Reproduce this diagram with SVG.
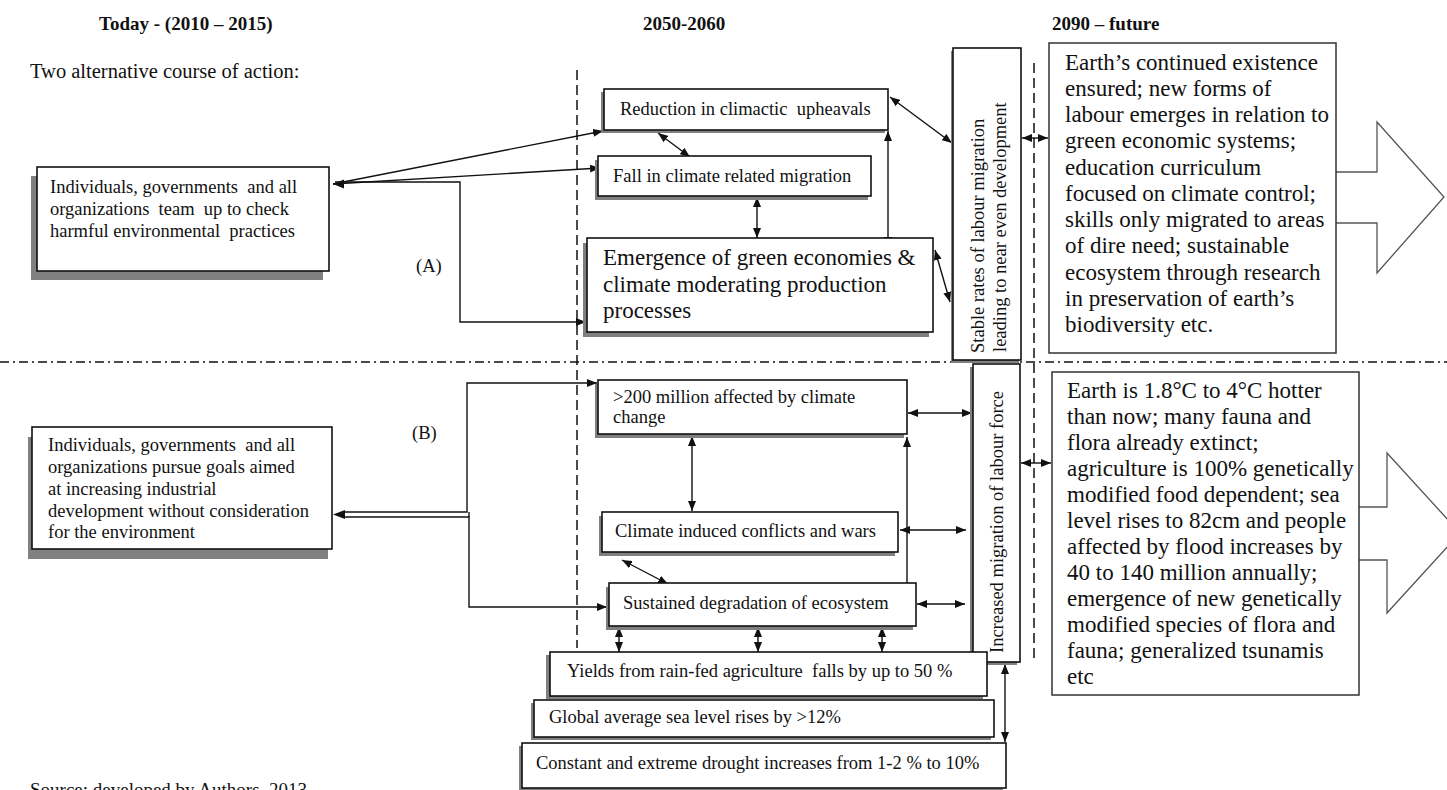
<svg xmlns="http://www.w3.org/2000/svg" width="1447" height="790" viewBox="0 0 1447 790">
<defs>
<style>
text{font-family:"Liberation Serif","Times New Roman",serif;fill:#111}
.hd{font-size:19px;font-weight:bold}
.t{font-size:18.5px}
.big{font-size:23px}
.box{fill:#fff;stroke:#111;stroke-width:1.6}
.ebox{fill:#fff;stroke:#333;stroke-width:1.5}
.sh{fill:#808080}
.c{fill:none;stroke:#111;stroke-width:1.4}
.dd{marker-start:url(#ah);marker-end:url(#ah)}
.e{marker-end:url(#ah)}
.dash{fill:none;stroke:#111;stroke-width:1.5;stroke-dasharray:10,5}
.dashdot{fill:none;stroke:#111;stroke-width:1.5;stroke-dasharray:9,4,2,4}
.bigarrow{fill:#fff;stroke:#555;stroke-width:1.3}
</style>
<marker id="ah" markerWidth="10" markerHeight="8" refX="10" refY="4" orient="auto-start-reverse" markerUnits="userSpaceOnUse">
<path d="M0,0 L10,4 L0,8 z" fill="#111"/>
</marker>
</defs>
<rect width="1447" height="790" fill="#fff"/>

<g id="guides">
<path class="dash" d="M577,70 V648"/>
<path class="dash" d="M1034,63 V663"/>
<path class="dashdot" d="M0,362 H1447"/>
</g>

<g id="headers">
<text class="hd" x="99" y="30">Today - (2010 – 2015)</text>
<text class="hd" x="643" y="30">2050-2060</text>
<text class="hd" x="1052" y="30">2090 – future</text>
<text x="30" y="78" style="font-size:20.5px">Two alternative course of action:</text>
<text class="t" x="416" y="272">(A)</text>
<text class="t" x="412" y="439">(B)</text>
<text x="30" y="796" style="font-size:19px">Source: developed by Authors, 2013</text>
</g>

<g id="connectors">
<path class="c e" d="M333,184 L603,131"/>
<path class="c e" d="M333,184 L600,168"/>
<path class="c e" d="M335,182 H460 V322 H586"/>
<polygon points="333,184 344,179.5 344,188.5" fill="#111"/>
<path class="c dd" d="M658,133 L690,157"/>
<path class="c dd" d="M757,197 V238"/>
<path class="c dd" d="M888,131 V247"/>
<path class="c dd" d="M890,97 L952,143"/>
<path class="c dd" d="M935,250 L950,302"/>
<path class="c dd" d="M1022,138 H1048"/>
<path class="c e" d="M342,512 H467 V383 H597"/>
<path class="c e" d="M342,517 H469 V607 H607"/>
<path class="c" d="M469,512 V517"/>
<polygon points="333,514.5 345,510 345,519" fill="#111"/>
<path class="c dd" d="M908,413 H972"/>
<path class="c dd" d="M692,436 V511"/>
<path class="c dd" d="M907,437 V593"/>
<path class="c dd" d="M900,530 H966"/>
<path class="c dd" d="M622,560 L668,584"/>
<path class="c dd" d="M917,604 H965"/>
<path class="c dd" d="M619,627 V652"/>
<path class="c dd" d="M758,627 V652"/>
<path class="c dd" d="M882,627 V652"/>
<path class="c dd" d="M1005,664 V742"/>
<path class="c dd" d="M1021,463 H1051"/>
</g>

<g id="nodeA">
<rect class="sh" x="31" y="176" width="292" height="104"/>
<rect class="box" x="37" y="167" width="292" height="104"/>
<text class="t" x="50" y="193" xml:space="preserve">Individuals, governments  and all</text>
<text class="t" x="50" y="215" xml:space="preserve">organizations  team  up to check</text>
<text class="t" x="50" y="237" xml:space="preserve">harmful environmental  practices</text>
</g>

<g id="nodeB">
<rect class="sh" x="28" y="437" width="300" height="122"/>
<rect class="box" x="32" y="427" width="300" height="122"/>
<text class="t" x="48" y="451" xml:space="preserve">Individuals, governments  and all</text>
<text class="t" x="48" y="473">organizations pursue goals aimed</text>
<text class="t" x="48" y="494.5">at increasing industrial</text>
<text class="t" x="48" y="516.5">development without consideration</text>
<text class="t" x="48" y="537.5">for the environment</text>
</g>

<g id="reduction">
<rect class="sh" x="601" y="92" width="284" height="41"/>
<rect class="box" x="604" y="89" width="284" height="41"/>
<text class="t" x="620" y="115" xml:space="preserve">Reduction in climactic  upheavals</text>
</g>

<g id="fall">
<rect class="sh" x="595" y="160" width="273" height="40"/>
<rect class="box" x="598" y="156" width="273" height="40"/>
<text class="t" x="613" y="182">Fall in climate related migration</text>
</g>

<g id="emergence">
<rect class="sh" x="583" y="243" width="346" height="94"/>
<rect class="box" x="587" y="238" width="346" height="94"/>
<text class="big" x="603" y="265">Emergence of green economies &amp;</text>
<text class="big" x="603" y="292">climate moderating production</text>
<text class="big" x="603" y="318">processes</text>
</g>

<g id="stable">
<rect class="sh" x="951" y="51" width="68" height="312"/>
<rect class="box" x="953" y="48" width="68" height="312"/>
<text class="t" transform="translate(984,353) rotate(-90)">Stable rates of labour migration</text>
<text class="t" transform="translate(1006,352) rotate(-90)">leading to near even development</text>
</g>

<g id="earth1">
<path class="bigarrow" d="M1336,172 H1377 V122 L1444,197 L1377,273 V223 H1336"/>
<rect class="ebox" x="1049" y="43" width="287" height="310"/>
<text class="big" x="1065" y="70">Earth’s continued existence</text>
<text class="big" x="1065" y="96">ensured; new forms of</text>
<text class="big" x="1065" y="122">labour emerges in relation to</text>
<text class="big" x="1065" y="148">green economic systems;</text>
<text class="big" x="1065" y="175">education curriculum</text>
<text class="big" x="1065" y="201">focused on climate control;</text>
<text class="big" x="1065" y="227">skills only migrated to areas</text>
<text class="big" x="1065" y="253">of dire need; sustainable</text>
<text class="big" x="1065" y="280">ecosystem through research</text>
<text class="big" x="1065" y="306">in preservation of earth’s</text>
<text class="big" x="1065" y="332">biodiversity etc.</text>
</g>

<g id="m200">
<rect class="sh" x="595" y="384" width="309" height="54"/>
<rect class="box" x="598" y="380" width="309" height="54"/>
<text class="t" x="613" y="403">&gt;200 million affected by climate</text>
<text class="t" x="613" y="423">change</text>
</g>

<g id="conflicts">
<rect class="sh" x="599" y="516" width="296" height="40"/>
<rect class="box" x="602" y="512" width="296" height="40"/>
<text class="t" x="615" y="537">Climate induced conflicts and wars</text>
</g>

<g id="sustained">
<rect class="sh" x="606" y="587" width="307" height="43"/>
<rect class="box" x="609" y="583" width="307" height="43"/>
<text class="t" x="623" y="609">Sustained degradation of ecosystem</text>
</g>

<g id="increased">
<rect class="sh" x="970" y="367" width="47" height="298"/>
<rect class="box" x="973" y="364" width="47" height="298"/>
<text class="t" transform="translate(1003,653) rotate(-90)">Increased migration of labour force</text>
</g>

<g id="earth2">
<path class="bigarrow" d="M1359,507 H1387 V453 L1460,533 L1387,613 V560 H1359"/>
<rect class="ebox" x="1052" y="372" width="307" height="323"/>
<text class="big" x="1067" y="398">Earth is 1.8°C to 4°C hotter</text>
<text class="big" x="1067" y="424">than now; many fauna and</text>
<text class="big" x="1067" y="450">flora already extinct;</text>
<text class="big" x="1067" y="476">agriculture is 100% genetically</text>
<text class="big" x="1067" y="502">modified food dependent; sea</text>
<text class="big" x="1067" y="528">level rises to 82cm and people</text>
<text class="big" x="1067" y="554">affected by flood increases by</text>
<text class="big" x="1067" y="580">40 to 140 million annually;</text>
<text class="big" x="1067" y="606">emergence of new genetically</text>
<text class="big" x="1067" y="632">modified species of flora and</text>
<text class="big" x="1067" y="658">fauna; generalized tsunamis</text>
<text class="big" x="1067" y="684">etc</text>
</g>

<g id="yields">
<rect class="sh" x="546" y="655" width="437" height="44"/>
<rect class="box" x="550" y="652" width="437" height="44"/>
<text class="t" x="567" y="677" xml:space="preserve">Yields from rain-fed agriculture  falls by up to 50 %</text>
</g>

<g id="sealevel">
<rect class="sh" x="531" y="703" width="460" height="37"/>
<rect class="box" x="534" y="700" width="460" height="37"/>
<text class="t" x="549" y="723">Global average sea level rises by &gt;12%</text>
</g>

<g id="drought">
<rect class="sh" x="519" y="746" width="484" height="45"/>
<rect class="box" x="522" y="743" width="484" height="45"/>
<text class="t" x="536" y="769">Constant and extreme drought increases from 1-2 % to 10%</text>
</g>
</svg>
